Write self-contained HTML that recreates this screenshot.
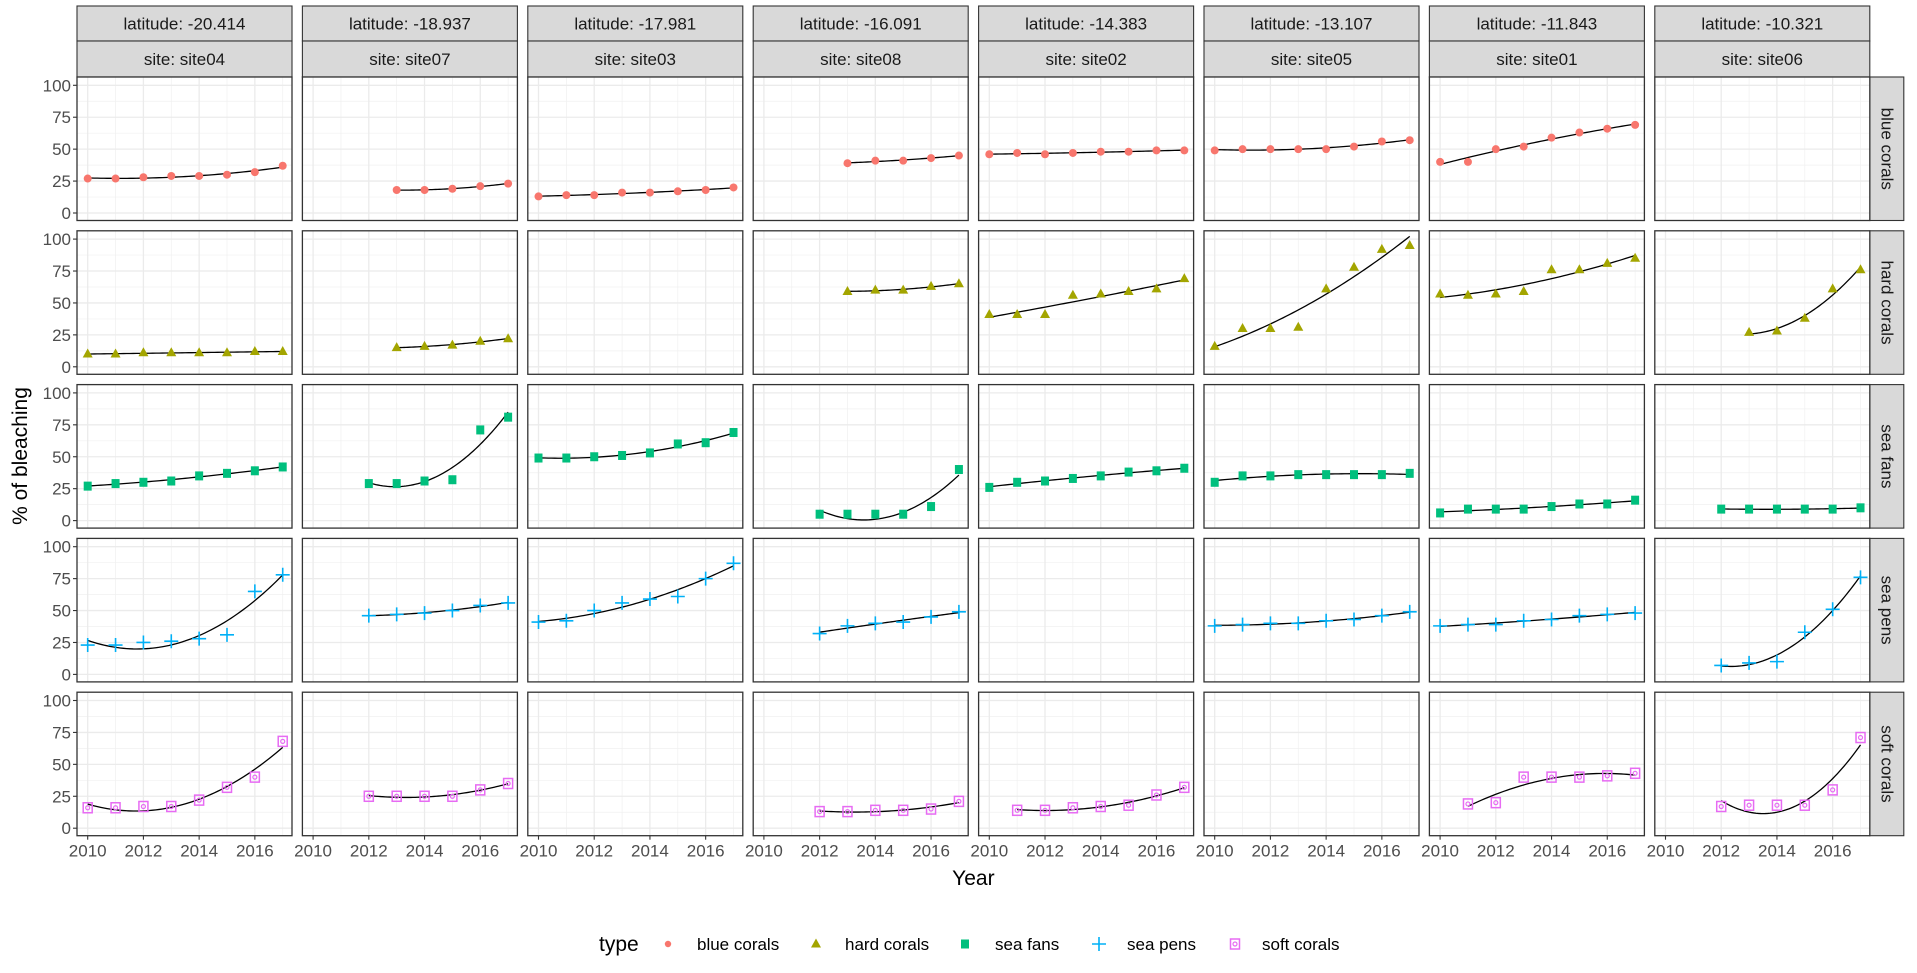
<!DOCTYPE html>
<html><head><meta charset="utf-8">
<style>
html,body{margin:0;padding:0;background:#fff;}
svg{display:block;font-family:"Liberation Sans",Arial,sans-serif;}
</style></head>
<body>
<svg id="chart" width="1917" height="973" viewBox="0 0 1917 973" xmlns="http://www.w3.org/2000/svg"></svg>
<script>
// ---- data ----
const latitudes = ["-20.414","-18.937","-17.981","-16.091","-14.383","-13.107","-11.843","-10.321"];
const sites = ["site04","site07","site03","site08","site02","site05","site01","site06"];
const types = ["blue corals","hard corals","sea fans","sea pens","soft corals"];
const typeColors = ["#F8766D","#A3A500","#00BF7D","#00B0F6","#E76BF3"];
const xTicks = [2010,2012,2014,2016];
const yTicks = [0,25,50,75,100];
// values per site column, last value is year 2017 (series end in 2017)
const blueCorals = [
  [27,27,28,29,29,30,32,37],[18,18,19,21,23],[13,14,14,16,16,17,18,20],[39,41,41,43,45],
  [46,47,46,47,48,48,49,49],[49,50,50,50,50,52,56,57],[40,40,50,52,59,63,66,69],[]];
const hardCorals = [
  [10,10,11,11,11,11,12,12],[15,16,17,20,22],[],[59,60,60,63,65],
  [41,41,41,56,57,59,61,69],[16,30,30,31,61,78,92,95],[57,56,57,59,76,76,81,85],[27,28,38,61,76]];
const seaFans = [
  [27,29,30,31,35,37,39,42],[29,29,31,32,71,81],[49,49,50,51,53,60,61,69],[5,5,5,5,11,40],
  [26,30,31,33,35,38,39,41],[30,35,35,36,36,36,36,37],[6,9,9,9,11,13,13,16],[9,9,9,9,9,10]];
const seaPens = [
  [23,23,25,26,28,31,65,78],[46,47,48,50,54,56],[41,42,50,56,59,61,75,87],[32,38,40,41,45,49],
  [],[38,39,40,40,42,43,46,49],[38,39,39,42,43,46,47,48],[7,9,10,33,51,76]];
const softCorals = [
  [16,16,17,17,22,32,40,68],[25,25,25,25,30,35],[],[13,13,14,14,15,21],
  [14,14,16,17,18,26,32],[],[19,20,40,40,40,41,43],[17,18,18,18,30,71]];
const seriesByType = [blueCorals,hardCorals,seaFans,seaPens,softCorals];

// ---- layout ----
const NS="http://www.w3.org/2000/svg";
const svg=document.getElementById('chart');
const PL=77, PW=215, PX=225.4, PT=77, PH=143.5, PY=153.8;
const XMIN=2009.616, XS=27.86, Y0=136, YS=1.277;
function px(col,yr){return PL+col*PX+(yr-XMIN)*XS;}
function py(row,v){return PT+row*PY+Y0-v*YS;}
function mk(tag,attrs,parent){const e=document.createElementNS(NS,tag);for(const k in attrs)e.setAttribute(k,attrs[k]);(parent||svg).appendChild(e);return e;}
function txt(s,attrs,parent){const e=mk('text',attrs,parent);e.textContent=s;return e;}

function marker(g,t,x,y){
  const c=typeColors[t];let m;
  if(t===0){m=mk('circle',{cx:x,cy:y,r:4,fill:c},g);}
  else if(t===1){m=mk('polygon',{points:`${x},${y-5.5} ${x-5},${y+3.5} ${x+5},${y+3.5}`,fill:c},g);}
  else if(t===2){m=mk('rect',{x:x-4,y:y-4.5,width:8,height:9,fill:c},g);}
  else if(t===3){m=mk('path',{d:`M${x-7},${y}H${x+7}M${x},${y-7}V${y+7}`,stroke:c,'stroke-width':1.6,fill:'none'},g);}
  else {m=mk('g',{},g);mk('rect',{x:x-4.5,y:y-5,width:9,height:10,fill:'none',stroke:c,'stroke-width':1.5},m);mk('circle',{cx:x,cy:y,r:2,fill:'none',stroke:c,'stroke-width':1.2},m);}
  return m;
}
function quadFit(xs,ys){
  const n=xs.length; if(n<3){return x=>ys[0];}
  let S=[0,0,0,0,0],T=[0,0,0];
  for(let i=0;i<n;i++){const x=xs[i];let p=1;for(let k=0;k<5;k++){S[k]+=p;if(k<3)T[k]+=p*ys[i];p*=x;}}
  const A=[[S[0],S[1],S[2],T[0]],[S[1],S[2],S[3],T[1]],[S[2],S[3],S[4],T[2]]];
  for(let i=0;i<3;i++){let mx=i;for(let r=i+1;r<3;r++)if(Math.abs(A[r][i])>Math.abs(A[mx][i]))mx=r;[A[i],A[mx]]=[A[mx],A[i]];
    for(let r=0;r<3;r++){if(r===i)continue;const f=A[r][i]/A[i][i];for(let c=i;c<4;c++)A[r][c]-=f*A[i][c];}}
  const a=A[0][3]/A[0][0],b=A[1][3]/A[1][1],c=A[2][3]/A[2][2];
  return x=>a+b*x+c*x*x;
}

// strips top
for(let c=0;c<8;c++){
  const x=PL+c*PX;
  const s1=mk('rect',{x:x,y:6,width:PW,height:35,fill:'#d9d9d9',stroke:'#333',"stroke-width":1.1});
  
  
  const t1=txt('latitude: '+latitudes[c],{x:x+PW/2,y:29.5,'text-anchor':'middle','font-size':17,fill:'#1a1a1a'});
  
  
  const s2=mk('rect',{x:x,y:41,width:PW,height:36,fill:'#d9d9d9',stroke:'#333',"stroke-width":1.1});
  
  
  const t2=txt('site: '+sites[c],{x:x+PW/2,y:65,'text-anchor':'middle','font-size':17,fill:'#1a1a1a'});
  
  
}
// right strips
for(let r=0;r<5;r++){
  const y=PT+r*PY;
  const s=mk('rect',{x:PL+7*PX+PW,y:y,width:34,height:PH,fill:'#d9d9d9',stroke:'#333','stroke-width':1.1});
  
  
  const cx=PL+7*PX+PW+17, cy=y+PH/2;
  const t=txt(types[r],{x:cx,y:cy,'text-anchor':'middle','dominant-baseline':'central','font-size':17,fill:'#1a1a1a',transform:`rotate(90 ${cx} ${cy})`});
  
  
}
// panels
for(let r=0;r<5;r++){
  for(let c=0;c<8;c++){
    const x0=PL+c*PX, y0=PT+r*PY;
    const g=mk('g',{});
    
    
    mk('rect',{x:x0,y:y0,width:PW,height:PH,fill:'#fff'},g);
    // minor grid
    for(let v=12.5;v<=112.5;v+=25){const yy=py(r,v);if(yy>y0&&yy<y0+PH)mk('line',{x1:x0,x2:x0+PW,y1:yy,y2:yy,stroke:'#f0f0f0','stroke-width':0.7},g);}
    for(const yr of [2009,2011,2013,2015,2017]){const xx=px(c,yr);if(xx>x0&&xx<x0+PW)mk('line',{x1:xx,x2:xx,y1:y0,y2:y0+PH,stroke:'#f0f0f0','stroke-width':0.7},g);}
    for(const v of yTicks){const yy=py(r,v);mk('line',{x1:x0,x2:x0+PW,y1:yy,y2:yy,stroke:'#ebebeb','stroke-width':1.3},g);}
    for(const yr of xTicks){const xx=px(c,yr);mk('line',{x1:xx,x2:xx,y1:y0,y2:y0+PH,stroke:'#ebebeb','stroke-width':1.3},g);}
    // data
    const vals=seriesByType[r][c];
    if(vals.length){
      const start=2018-vals.length;
      const xs=vals.map((v,i)=>start+i);
      const f=quadFit(xs.map(v=>v-2013),vals);
      let d='';
      for(let k=0;k<=60;k++){const yr=start+(2017-start)*k/60;d+=(k?'L':'M')+px(c,yr).toFixed(2)+','+py(r,f(yr-2013)).toFixed(2);}
      const ln=mk('path',{d:d,fill:'none',stroke:'#000','stroke-width':1.3},g);
      
      
      vals.forEach((v,i)=>{
        const m=marker(g,r,px(c,start+i),py(r,v));
        
        
      });
    }
    mk('rect',{x:x0,y:y0,width:PW,height:PH,fill:'none',stroke:'#333','stroke-width':1.3},g);
  }
  // y axis ticks
  for(const v of yTicks){
    const yy=py(r,v);
    mk('line',{x1:PL-4,x2:PL,y1:yy,y2:yy,stroke:'#333','stroke-width':1.1});
    const t=txt(String(v),{x:PL-6,y:yy+6,'text-anchor':'end','font-size':17,fill:'#4d4d4d'});
    
    
  }
}
// x axis ticks
for(let c=0;c<8;c++){
  const yb=PT+4*PY+PH;
  for(const yr of xTicks){
    const xx=px(c,yr);
    mk('line',{x1:xx,x2:xx,y1:yb,y2:yb+4,stroke:'#333','stroke-width':1.1});
    const t=txt(String(yr),{x:xx,y:yb+21,'text-anchor':'middle','font-size':17,fill:'#4d4d4d'});
    
    
  }
}
// axis titles
const xt=txt('Year',{x:(PL+7*PX+PW+PL)/2,y:885,'text-anchor':'middle','font-size':21,fill:'#000'});


const yt=txt('% of bleaching',{x:0,y:0,'text-anchor':'middle','font-size':21,fill:'#000',transform:'translate(27 456) rotate(-90)'});


// legend
const lg=mk('g',{});


const lt=txt('type',{x:599,y:951,'font-size':21,fill:'#000'},lg);


const legKeyX=[668,816,965,1099,1235];
const legTextX=[697,845,995,1127,1262];
for(let t=0;t<5;t++){
  const eg=mk('g',{},lg);
  
  
  const m=marker(eg,t,legKeyX[t],944);
  if(t===0)m.setAttribute('r',3.2);
  txt(types[t],{x:legTextX[t],y:950,'font-size':17,fill:'#000'},eg);
}
</script>
</body></html>
